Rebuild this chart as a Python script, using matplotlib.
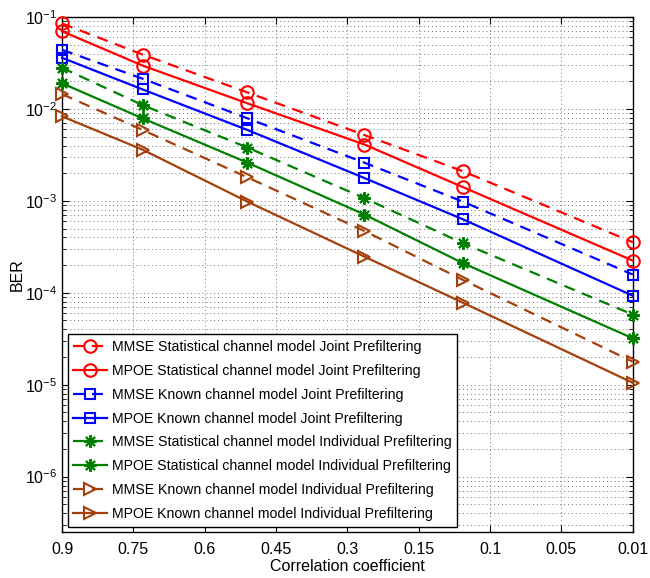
import matplotlib

matplotlib.use("Agg")
import matplotlib.pyplot as plt
from matplotlib.ticker import LogLocator, NullFormatter

plt.rcParams["font.family"] = ["Liberation Sans", "DejaVu Sans"]

# Tick labels on the x axis (equally spaced categories)
x_tick_labels = ["0.9", "0.75", "0.6", "0.45", "0.3", "0.15", "0.1", "0.05", "0.01"]
# Positions of the simulated points, in tick-index units
x_points = [0, 1.13, 2.6, 4.24, 5.62, 8]

mmse_stat_joint = [0.085, 0.039, 0.0151, 0.0052, 0.0021, 0.000355]
mpoe_stat_joint = [0.070, 0.0296, 0.0115, 0.0041, 0.00141, 0.000224]
mmse_known_joint = [0.044, 0.0213, 0.0079, 0.0026, 0.00098, 0.000158]
mpoe_known_joint = [0.036, 0.0163, 0.0059, 0.00177, 0.00063, 9.3e-5]
mmse_stat_indiv = [0.028, 0.011, 0.0038, 0.00107, 0.000346, 5.8e-5]
mpoe_stat_indiv = [0.019, 0.0079, 0.0026, 0.00071, 0.00021, 3.2e-5]
mmse_known_indiv = [0.0145, 0.0059, 0.0018, 0.00047, 0.000138, 1.78e-5]
mpoe_known_indiv = [0.0083, 0.0036, 0.00098, 0.000247, 7.8e-5, 1.05e-5]

labels = [
    "MMSE Statistical channel model Joint Prefiltering",
    "MPOE Statistical channel model Joint Prefiltering",
    "MMSE Known channel model Joint Prefiltering",
    "MPOE Known channel model Joint Prefiltering",
    "MMSE Statistical channel model Individual Prefiltering",
    "MPOE Statistical channel model Individual Prefiltering",
    "MMSE Known channel model Individual Prefiltering",
    "MPOE Known channel model Individual Prefiltering",
]

series = [
    mmse_stat_joint, mpoe_stat_joint,
    mmse_known_joint, mpoe_known_joint,
    mmse_stat_indiv, mpoe_stat_indiv,
    mmse_known_indiv, mpoe_known_indiv,
]

brown = "#A3400C"
dashed = (0, (5, 3.5))
asterisk = (8, 2, 0)  # MATLAB-like '*' marker
styles = [
    ("#FF0000", "o", 9, dashed),
    ("#FF0000", "o", 9, "-"),
    ("#0000FF", "s", 7.5, dashed),
    ("#0000FF", "s", 7.5, "-"),
    ("#008000", asterisk, 9, dashed),
    ("#008000", asterisk, 9, "-"),
    (brown, ">", 9, dashed),
    (brown, ">", 9, "-"),
]

fig = plt.figure(figsize=(6.5, 5.78), dpi=100)
ax = fig.add_axes([0.0954, 0.0796, 0.878, 0.891])

for values, label, (color, marker, ms, ls) in zip(series, labels, styles):
    ax.semilogy(
        x_points,
        values,
        linestyle=ls,
        color=color,
        marker=marker,
        markersize=ms,
        markerfacecolor="none",
        markeredgecolor=color,
        markeredgewidth=1.5,
        linewidth=1.6,
        label=label,
        clip_on=False,
        zorder=3,
    )

ax.set_xlim(0, 8)
ax.set_ylim(2.5e-7, 1e-1)
ax.set_xticks(range(len(x_tick_labels)))
ax.set_xticklabels(x_tick_labels)
ax.yaxis.set_major_locator(LogLocator(base=10, numticks=10))
ax.yaxis.set_minor_locator(LogLocator(base=10, subs=range(2, 10), numticks=20))
ax.yaxis.set_minor_formatter(NullFormatter())

ax.grid(True, which="major", linestyle=(0, (1, 3)), color="0.45", linewidth=0.7)
ax.grid(True, which="minor", axis="y", linestyle=(0, (1, 3)), color="0.45", linewidth=0.7)
ax.tick_params(which="both", direction="in", top=True, right=True, labelsize=11.5)
ax.tick_params(axis="x", which="major", pad=7)
ax.tick_params(which="major", length=5)
ax.tick_params(which="minor", length=3)
for spine in ax.spines.values():
    spine.set_linewidth(1.0)

ax.set_xlabel("Correlation coefficient", fontsize=11.5, labelpad=2)
ax.set_ylabel("BER", fontsize=11.5, labelpad=0)

leg = ax.legend(
    loc="lower left",
    bbox_to_anchor=(0.01, 0.01),
    borderaxespad=0,
    fontsize=10.2,
    frameon=True,
    fancybox=False,
    framealpha=1.0,
    edgecolor="black",
    handlelength=2.4,
    handletextpad=0.3,
    labelspacing=0.7,
    borderpad=0.4,
)
leg.get_frame().set_linewidth(1.0)
leg.set_zorder(5)

fig.savefig("out.png", dpi=100)
